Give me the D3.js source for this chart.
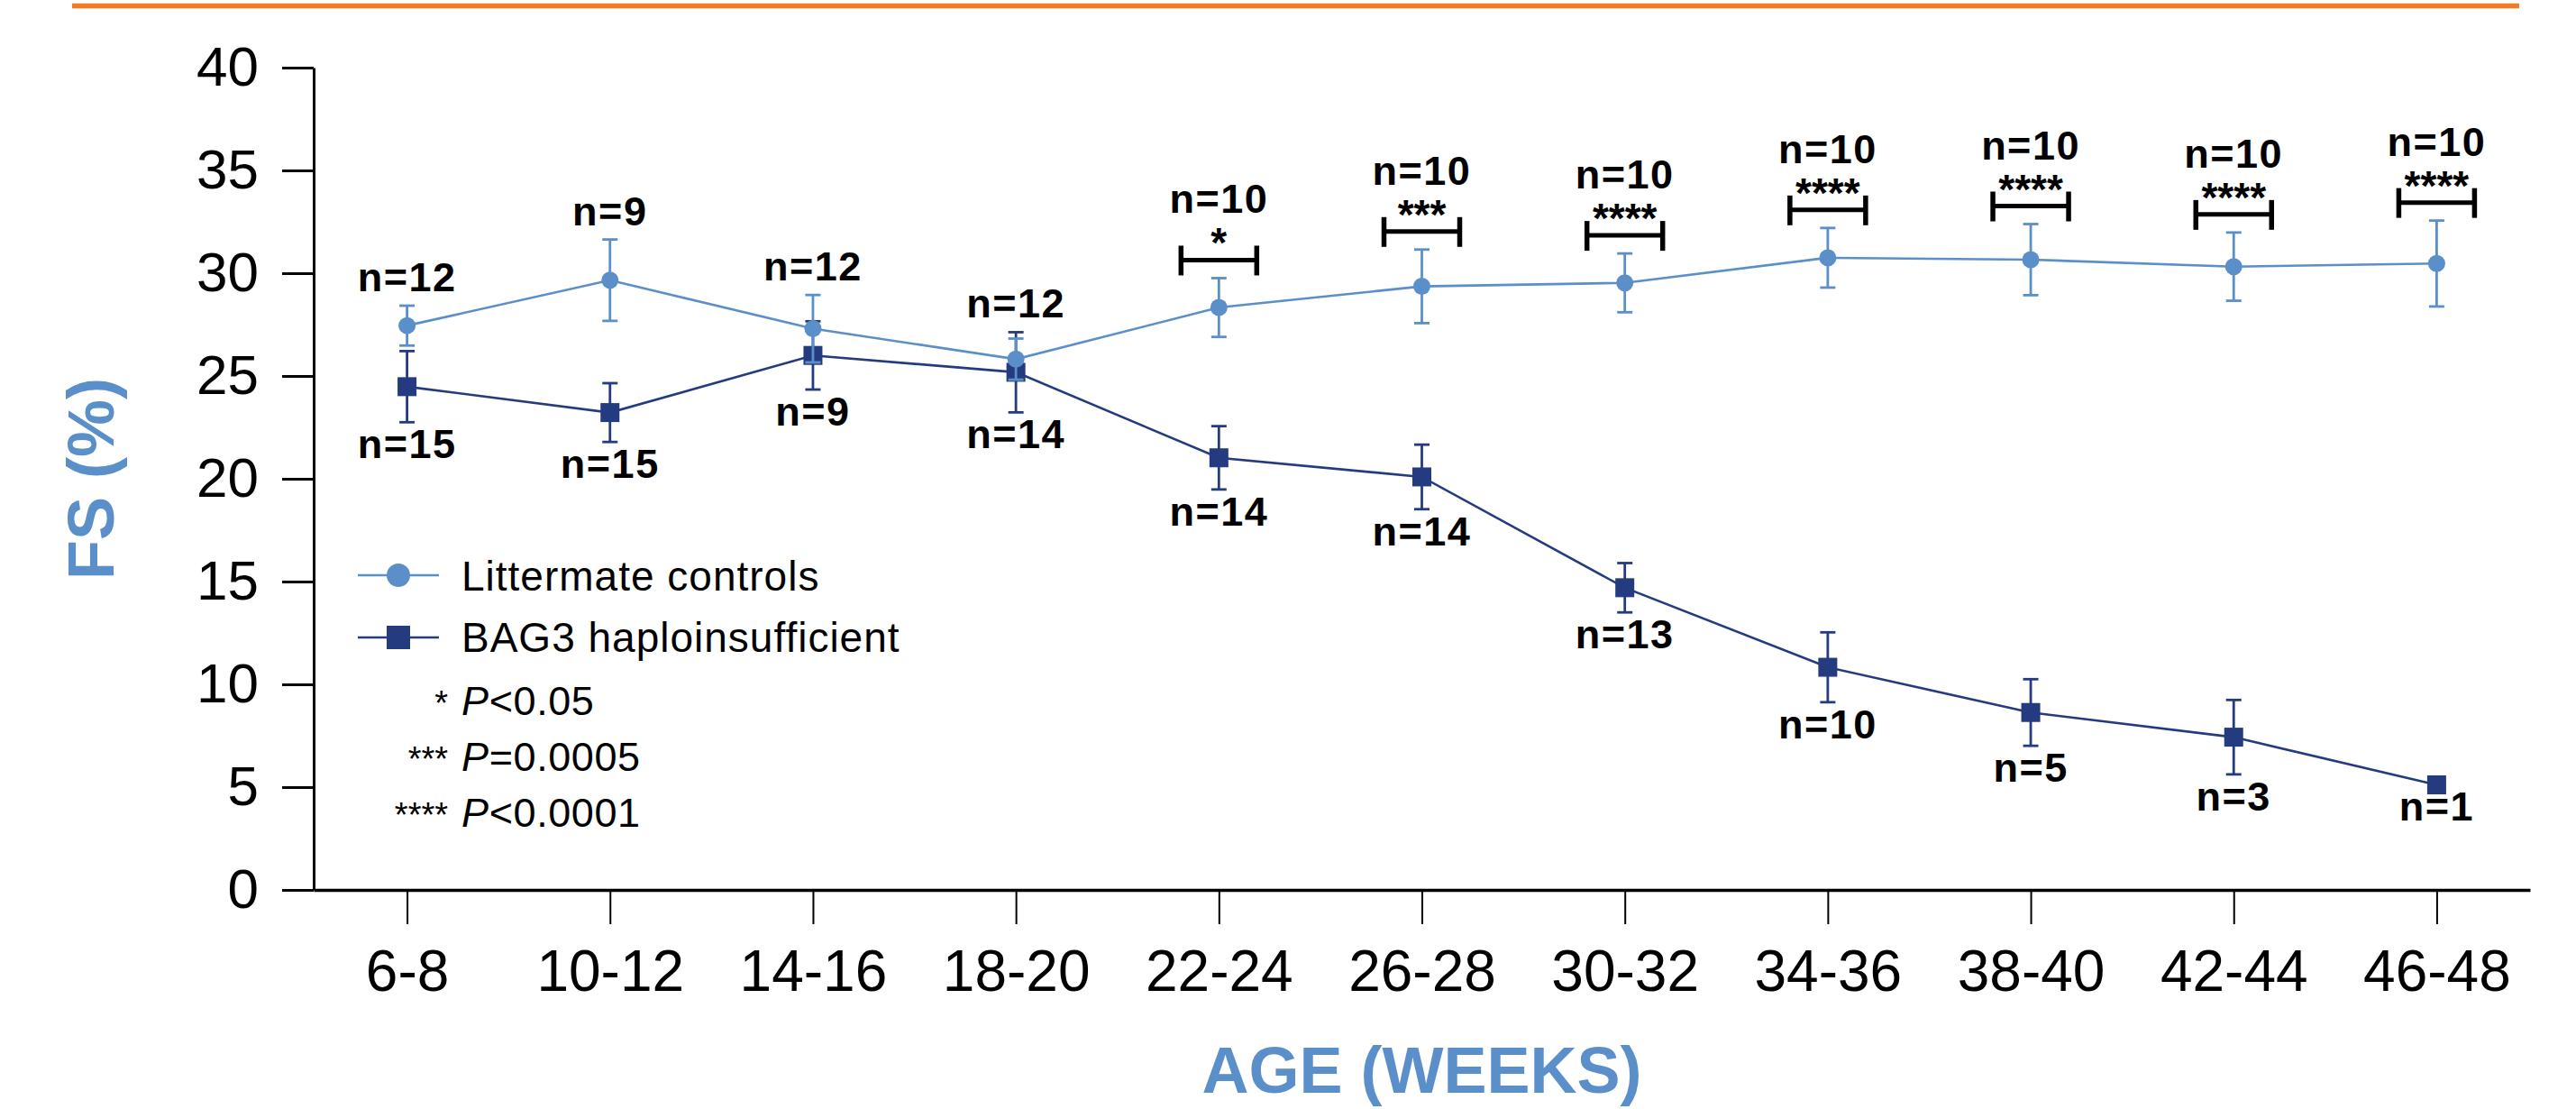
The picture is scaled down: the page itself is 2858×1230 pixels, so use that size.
<!DOCTYPE html>
<html>
<head>
<meta charset="utf-8">
<script src="https://cdn.jsdelivr.net/npm/d3@7"></script>
<style>
  body { margin: 0; background: #fff; }
  svg { display: block; font-family: "Liberation Sans", Arial, Helvetica, sans-serif; }
</style>
</head>
<body>
<div id="chart"></div>
<script>
// data
const ages = ["6-8", "10-12", "14-16", "18-20", "22-24", "26-28", "30-32", "34-36", "38-40", "42-44", "46-48"]
const ctrlMean = [27.45, 29.66, 27.3, 25.82, 28.33, 29.36, 29.53, 30.75, 30.66, 30.32, 30.47]
const ctrlSem = [0.97, 1.98, 1.64, 1.0, 1.43, 1.79, 1.43, 1.45, 1.73, 1.66, 2.09]
const ctrlN = [12, 9, 12, 12, 10, 10, 10, 10, 10, 10, 10]
const bagMean = [24.48, 23.22, 26.0, 25.18, 21.02, 20.09, 14.7, 10.83, 8.63, 7.43, 5.11]
const bagSem = [1.73, 1.43, 1.66, 1.95, 1.54, 1.57, 1.2, 1.7, 1.62, 1.81, 0]
const bagN = [15, 15, 9, 14, 14, 14, 13, 10, 5, 3, 1]
const sigStars = ["", "", "", "", "*", "***", "****", "****", "****", "****", "****"]
const yTicks = [0, 5, 10, 15, 20, 25, 30, 35, 40]
const seriesNames = ["Littermate controls", "BAG3 haploinsufficient"]
const pStars = ["*", "***", "****"]
const pText = [["<", "0.05"], ["=", "0.0005"], ["<", "0.0001"]]

const lightBlue = "#5b8fca"
const navy = "#253b80"
const orange = "#f47b20"

const width = 2858
const height = 1230
const plot = { left: 348, right: 2807, top: 75, bottom: 987 }

const ctrl = ages.map((a, i) => ({ age: a, mean: ctrlMean[i], sem: ctrlSem[i], n: ctrlN[i], stars: sigStars[i] }))
const bag = ages.map((a, i) => ({ age: a, mean: bagMean[i], sem: bagSem[i], n: bagN[i] }))

const svg = d3.select("#chart").append("svg")
  .attr("width", width)
  .attr("height", height)

// orange rule on top
svg.append("line")
  .attr("x1", 80).attr("x2", 2795)
  .attr("y1", 6.5).attr("y2", 6.5)
  .attr("stroke", orange)
  .attr("stroke-width", 5.5)

const xScale = d3.scalePoint()
  .domain(ages)
  .range([plot.left, plot.right])
  .padding(0.46)

const yScale = d3.scaleLinear()
  .domain([0, 40])
  .range([plot.bottom, plot.top])

// axes
const yAxis = svg.append("g")
  .attr("transform", `translate(${plot.left},0)`)
  .call(d3.axisLeft(yScale).tickValues(yTicks).tickSize(35).tickSizeOuter(0).tickPadding(26))
yAxis.select(".domain").attr("stroke-width", 3)
yAxis.selectAll(".tick line").attr("stroke-width", 3)
yAxis.selectAll("text")
  .attr("font-size", 62)
  .attr("font-family", "Liberation Sans, Arial, sans-serif")
  .attr("fill", "#000")

const xAxis = svg.append("g")
  .attr("transform", `translate(0,${plot.bottom})`)
  .call(d3.axisBottom(xScale).tickSize(38).tickSizeOuter(0).tickPadding(29))
xAxis.select(".domain").attr("stroke-width", 3.5)
xAxis.selectAll(".tick line").attr("stroke-width", 2)
xAxis.selectAll("text")
  .attr("font-size", 64)
  .attr("font-family", "Liberation Sans, Arial, sans-serif")
  .attr("fill", "#000")

// axis titles
svg.append("text")
  .attr("x", (plot.left + plot.right) / 2)
  .attr("y", 1212)
  .attr("text-anchor", "middle")
  .attr("font-size", 72)
  .attr("font-weight", "bold")
  .attr("fill", lightBlue)
  .text("AGE (WEEKS)")

svg.append("text")
  .attr("transform", `translate(126,${(plot.top + plot.bottom) / 2}) rotate(-90)`)
  .attr("text-anchor", "middle")
  .attr("font-size", 72)
  .attr("font-weight", "bold")
  .attr("fill", lightBlue)
  .text("FS (%)")

const lineGen = d3.line()
  .x(d => xScale(d.age))
  .y(d => yScale(d.mean))

function drawSeries(data, color, marker) {
  const g = svg.append("g")
  g.append("path")
    .attr("d", lineGen(data))
    .attr("fill", "none")
    .attr("stroke", color)
    .attr("stroke-width", 2.6)

  const errs = data.filter(d => d.sem > 0)
  g.selectAll(".err").data(errs).join("line")
    .attr("x1", d => xScale(d.age)).attr("x2", d => xScale(d.age))
    .attr("y1", d => yScale(d.mean - d.sem)).attr("y2", d => yScale(d.mean + d.sem))
    .attr("stroke", color).attr("stroke-width", 2.8)
  g.selectAll(".capTop").data(errs).join("line")
    .attr("x1", d => xScale(d.age) - 8.5).attr("x2", d => xScale(d.age) + 8.5)
    .attr("y1", d => yScale(d.mean + d.sem)).attr("y2", d => yScale(d.mean + d.sem))
    .attr("stroke", color).attr("stroke-width", 2.8)
  g.selectAll(".capBot").data(errs).join("line")
    .attr("x1", d => xScale(d.age) - 8.5).attr("x2", d => xScale(d.age) + 8.5)
    .attr("y1", d => yScale(d.mean - d.sem)).attr("y2", d => yScale(d.mean - d.sem))
    .attr("stroke", color).attr("stroke-width", 2.8)

  if (marker === "circle") {
    g.selectAll(".pt").data(data).join("circle")
      .attr("cx", d => xScale(d.age))
      .attr("cy", d => yScale(d.mean))
      .attr("r", 9.5)
      .attr("fill", color)
  } else {
    g.selectAll(".pt").data(data).join("rect")
      .attr("x", d => xScale(d.age) - 10.5)
      .attr("y", d => yScale(d.mean) - 10.5)
      .attr("width", 21).attr("height", 21)
      .attr("fill", color)
  }
}

drawSeries(bag, navy, "square")
drawSeries(ctrl, lightBlue, "circle")

// significance brackets and n labels
const labelFont = { size: 45, spacing: 1.5 }
ctrl.forEach((d, i) => {
  const x = xScale(d.age)
  const top = yScale(d.mean + d.sem)
  let nBase
  if (d.stars) {
    const by = top - 20
    svg.append("line")
      .attr("x1", x - 42).attr("x2", x + 42)
      .attr("y1", by).attr("y2", by)
      .attr("stroke", "#000").attr("stroke-width", 5)
    ;[-42, 42].forEach(dx => {
      svg.append("line")
        .attr("x1", x + dx).attr("x2", x + dx)
        .attr("y1", by - 16).attr("y2", by + 17)
        .attr("stroke", "#000").attr("stroke-width", 5.5)
    })
    svg.append("text")
      .attr("x", x).attr("y", by - 3)
      .attr("text-anchor", "middle")
      .attr("font-size", 46).attr("font-weight", "bold")
      .text(d.stars)
    nBase = by - 52
  } else {
    nBase = Math.min(top, yScale(bag[i].mean + bag[i].sem)) - 16
  }
  svg.append("text")
    .attr("x", x).attr("y", nBase)
    .attr("text-anchor", "middle")
    .attr("font-size", labelFont.size).attr("font-weight", "bold")
    .attr("letter-spacing", labelFont.spacing)
    .text("n=" + d.n)
})

bag.forEach((d, i) => {
  const x = xScale(d.age)
  const bottom = Math.max(yScale(d.mean - d.sem), yScale(ctrl[i].mean - ctrl[i].sem))
  svg.append("text")
    .attr("x", x).attr("y", bottom + 40)
    .attr("text-anchor", "middle")
    .attr("font-size", labelFont.size).attr("font-weight", "bold")
    .attr("letter-spacing", labelFont.spacing)
    .text("n=" + d.n)
})

// legend
const legend = svg.append("g")
const legendRows = [
  { name: seriesNames[0], color: lightBlue, marker: "circle", y: 638, base: 655 },
  { name: seriesNames[1], color: navy, marker: "square", y: 707, base: 723 }
]
legendRows.forEach(r => {
  legend.append("line")
    .attr("x1", 397).attr("x2", 487)
    .attr("y1", r.y).attr("y2", r.y)
    .attr("stroke", r.color).attr("stroke-width", 2.6)
  if (r.marker === "circle") {
    legend.append("circle").attr("cx", 442).attr("cy", r.y).attr("r", 13).attr("fill", r.color)
  } else {
    legend.append("rect").attr("x", 429).attr("y", r.y - 13).attr("width", 26).attr("height", 26).attr("fill", r.color)
  }
  legend.append("text")
    .attr("x", 512).attr("y", r.base)
    .attr("font-size", 46)
    .attr("letter-spacing", 1)
    .text(r.name)
})

const pBase = [793, 855, 917]
pStars.forEach((s, i) => {
  legend.append("text")
    .attr("x", 497).attr("y", pBase[i])
    .attr("text-anchor", "end")
    .attr("font-size", 38)
    .text(s)
  const t = legend.append("text")
    .attr("x", 512).attr("y", pBase[i])
    .attr("font-size", 45)
    .attr("letter-spacing", 0.6)
  t.append("tspan").attr("font-style", "italic").text("P")
  t.append("tspan").text(pText[i][0] + pText[i][1])
})
</script>
</body>
</html>
